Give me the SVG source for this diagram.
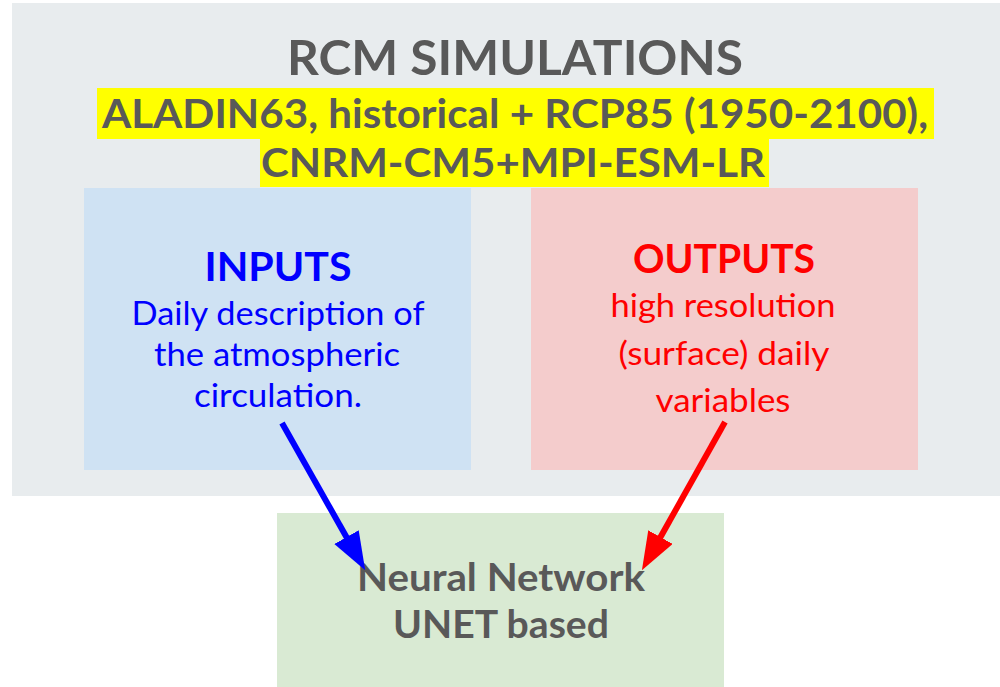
<svg xmlns="http://www.w3.org/2000/svg" width="1000" height="687" viewBox="0 0 1000 687">
<style>
text{font-family:Lato,"Liberation Sans",sans-serif;text-anchor:middle}
.title{font-weight:bold;fill:#595959}
.hl{fill:#ffff00}
.in{fill:#0000ff}
.out{fill:#ff0000}
.b{font-weight:bold}
</style>
<defs>
<marker id="ab" markerUnits="userSpaceOnUse" markerWidth="40" markerHeight="30" refX="1" refY="14" orient="auto"><path d="M0,0 L38,14 L0,28 z" fill="#0000ff"/></marker>
<marker id="ar" markerUnits="userSpaceOnUse" markerWidth="40" markerHeight="30" refX="1" refY="14" orient="auto"><path d="M0,0 L38,14 L0,28 z" fill="#ff0000"/></marker>
</defs>
<rect width="1000" height="687" fill="#ffffff"/>
<g id="rcm">
<rect x="12" y="3" width="988" height="493" fill="#e8ecee"/>
<text class="title" x="515" y="75" font-size="48" textLength="456" lengthAdjust="spacingAndGlyphs">RCM SIMULATIONS</text>
<rect class="hl" x="97" y="88" width="837" height="51"/>
<rect class="hl" x="260" y="139" width="509" height="48"/>
<text class="title" x="515" y="128" font-size="40" textLength="826" lengthAdjust="spacingAndGlyphs">ALADIN63, historical + RCP85 (1950-2100),</text>
<text class="title" x="513" y="177" font-size="40" textLength="504" lengthAdjust="spacingAndGlyphs">CNRM-CM5+MPI-ESM-LR</text>
</g>
<g id="inputs">
<rect x="84" y="188" width="387" height="282" fill="#cfe2f3"/>
<text class="in b" x="278" y="281" font-size="41" textLength="147" lengthAdjust="spacingAndGlyphs">INPUTS</text>
<text class="in" x="278" y="325" font-size="33" textLength="293" lengthAdjust="spacingAndGlyphs">Daily description of</text>
<text class="in" x="277" y="366" font-size="33" textLength="246" lengthAdjust="spacingAndGlyphs">the atmospheric</text>
<text class="in" x="278" y="407" font-size="33" textLength="168" lengthAdjust="spacingAndGlyphs">circulation.</text>
</g>
<g id="outputs">
<rect x="531" y="188" width="387" height="282" fill="#f4cccc"/>
<text class="out b" x="724" y="273" font-size="40" textLength="182" lengthAdjust="spacingAndGlyphs">OUTPUTS</text>
<text class="out" x="723" y="317" font-size="33" textLength="225" lengthAdjust="spacingAndGlyphs">high resolution</text>
<text class="out" x="724" y="365" font-size="33" textLength="211" lengthAdjust="spacingAndGlyphs">(surface) daily</text>
<text class="out" x="723" y="412" font-size="33" textLength="135" lengthAdjust="spacingAndGlyphs">variables</text>
</g>
<g id="nn">
<rect x="277" y="513" width="447" height="174" fill="#d9ead3"/>
<text class="title" x="501" y="591" font-size="39" textLength="288" lengthAdjust="spacingAndGlyphs">Neural Network</text>
<text class="title" x="501" y="638" font-size="39" textLength="216" lengthAdjust="spacingAndGlyphs">UNET based</text>
</g>
<g id="connectors">
<line x1="282" y1="423" x2="347" y2="538" stroke="#0000ff" stroke-width="6" marker-end="url(#ab)"/>
<line x1="725" y1="422" x2="660" y2="538" stroke="#ff0000" stroke-width="6" marker-end="url(#ar)"/>
</g>
</svg>
